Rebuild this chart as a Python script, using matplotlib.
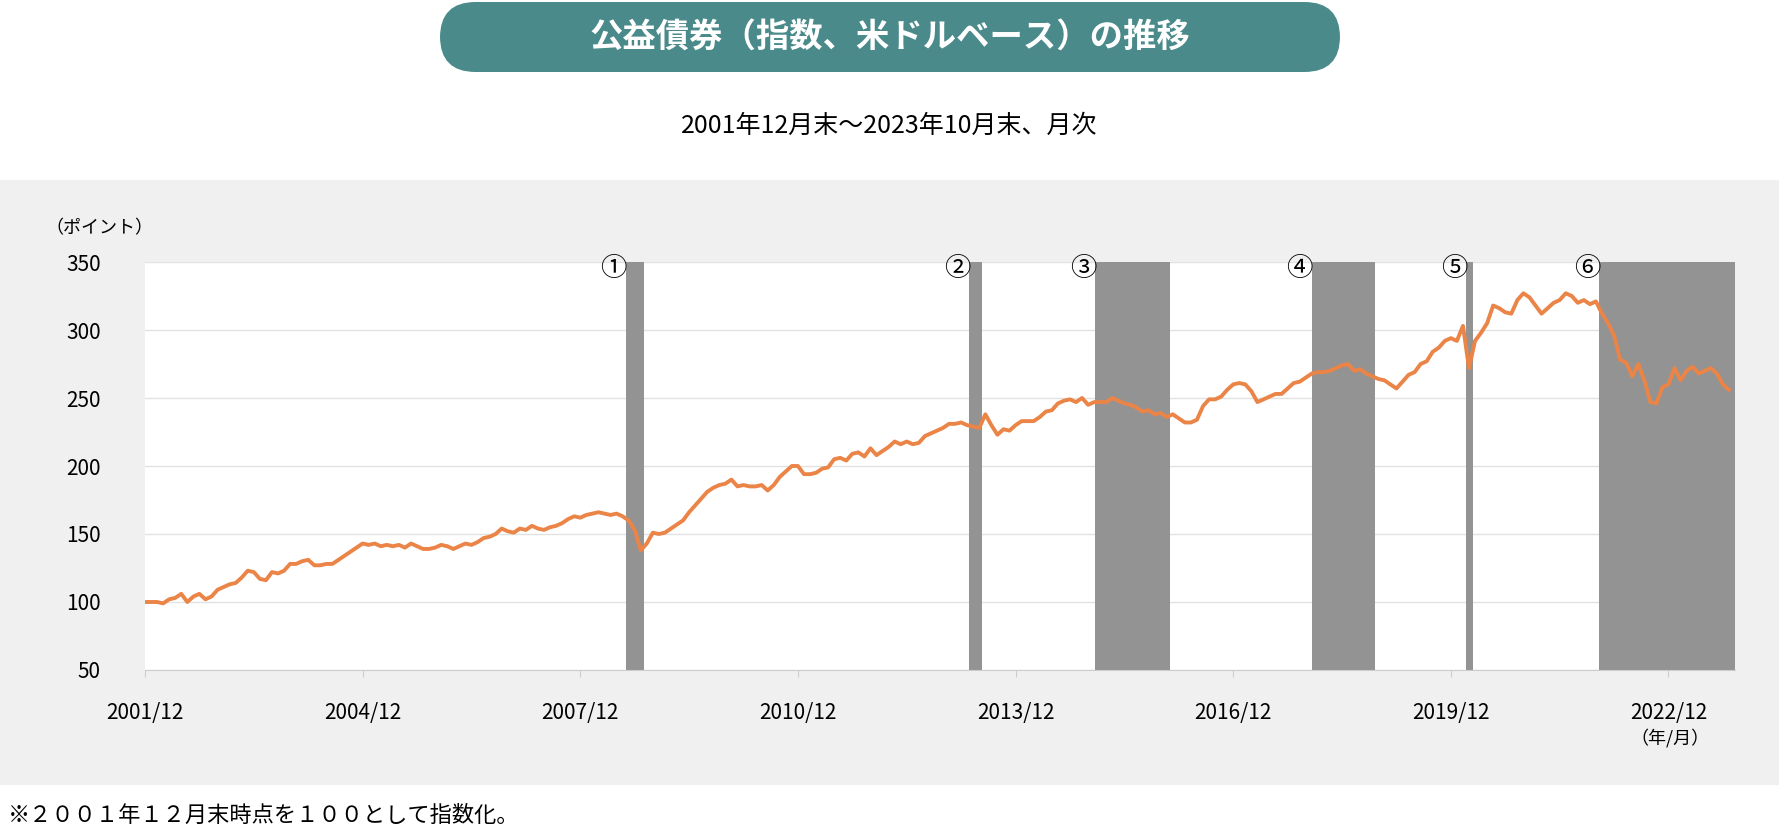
import matplotlib
matplotlib.use("Agg")
import matplotlib.pyplot as plt
from matplotlib.patches import FancyBboxPatch, Rectangle

plt.rcParams['font.family'] = ['Noto Sans CJK JP', 'DejaVu Sans']

values = [100,
 100,100,99,102,103,106,100,104,106,102,104,109,
 111,113,114,118,123,122,117,116,122,121,123,128,
 128,130,131,127,127,128,128,131,134,137,140,143,
 142,143,141,142,141,142,140,143,141,139,139,140,
 142,141,139,141,143,142,144,147,148,150,154,152,
 151,154,153,156,154,153,155,156,158,161,163,162,
 164,165,166,165,164,165,163,160,153,138,143,151,
 150,151,154,157,160,166,171,176,181,184,186,187,
 190,185,186,185,185,186,182,186,192,196,200,200,
 194,194,195,198,199,205,206,204,209,210,207,213,
 208,211,214,218,216,218,216,217,222,224,226,228,
 231,231,232,230,229,228,238,230,223,227,226,230,
 233,233,233,236,240,241,246,248,249,247,250,245,
 247,247,247,250,248,246,245,243,240,241,238,239,
 236,238,235,232,232,234,244,249,249,251,256,260,
 261,260,255,247,249,251,253,253,257,261,262,265,
 268,269,269,270,272,274,275,270,271,268,266,264,
 263,260,257,262,267,269,275,277,284,287,292,294,
 292,303,272,292,298,305,318,316,313,312,322,327,
 324,318,312,316,320,322,327,325,320,322,319,321,
 312,305,296,278,276,266,275,263,247,246,258,260,
 272,263,270,273,268,270,272,268,260,256]

tick_labels = ['2001/12','2004/12','2007/12','2010/12','2013/12','2016/12','2019/12','2022/12']
tick_pos = [36*i for i in range(len(tick_labels))]
# shaded periods (month index from 2001/12)
regions = [(79.5, 82.5), (136.3, 138.4), (157.2, 169.6), (193.0, 203.5), (218.5, 219.7), (240.5, 263)]
region_labels = ['①','②','③','④','⑤','⑥']

fig = plt.figure(figsize=(17.79, 8.32), dpi=100)
W, H = 1779, 832
fig.patches.append(Rectangle((0, 1-785/H), 1, (785-180)/H, transform=fig.transFigure,
                             facecolor='#f0f0f0', edgecolor='none', zorder=-5))
fig.patches.append(FancyBboxPatch((440/W, 1-72/H), 900/W, 70/H, transform=fig.transFigure,
                   boxstyle="round,pad=0,rounding_size=0.02", facecolor='#4a8a8a', edgecolor='none',
                   mutation_aspect=W/H))
fig.text(0.5, 1-37/H, '公益債券（指数、米ドルベース）の推移', color='white', fontsize=24,
         fontweight='bold', ha='center', va='center')
fig.text(0.5, 1-126/H, '2001年12月末～2023年10月末、月次', fontsize=18, ha='center', va='center')
fig.text(8/W, 1-815/H, '※２００１年１２月末時点を１００として指数化。', fontsize=16, ha='left', va='center')

ax = fig.add_axes([145/W, 1-670/H, 1590/W, 408/H])
ax.set_facecolor('white')
x = list(range(len(values)))
for (a, b), lab in zip(regions, region_labels):
    ax.axvspan(a, b, color='#939393', lw=0, zorder=1)
    ax.text(a - 2.0, 345, lab, fontsize=19, ha='center', va='center', zorder=3)
ax.plot(x, values, color='#eb8447', lw=2.8, zorder=2)
ax.set_xlim(0, 263)
ax.set_ylim(50, 350)
ax.set_yticks(range(50, 351, 50))
ax.yaxis.grid(True, color='#e2e2e2', lw=1)
ax.set_axisbelow(True)
ax.set_xticks(tick_pos)
ax.set_xticklabels(tick_labels, fontsize=15)
ax.tick_params(axis='y', length=0, labelsize=15, pad=32)
ax.tick_params(axis='x', length=5, color='#cccccc', pad=18)
for s in ax.spines.values():
    s.set_visible(False)
ax.spines['bottom'].set_visible(True)
ax.spines['bottom'].set_color('#cccccc')
fig.text(45/W, 1-228/H, '（ポイント）', fontsize=13, ha='left', va='center')
fig.text(1670/W, 1-738/H, '（年/月）', fontsize=13, ha='center', va='center')

fig.savefig('out.png', dpi=100)
